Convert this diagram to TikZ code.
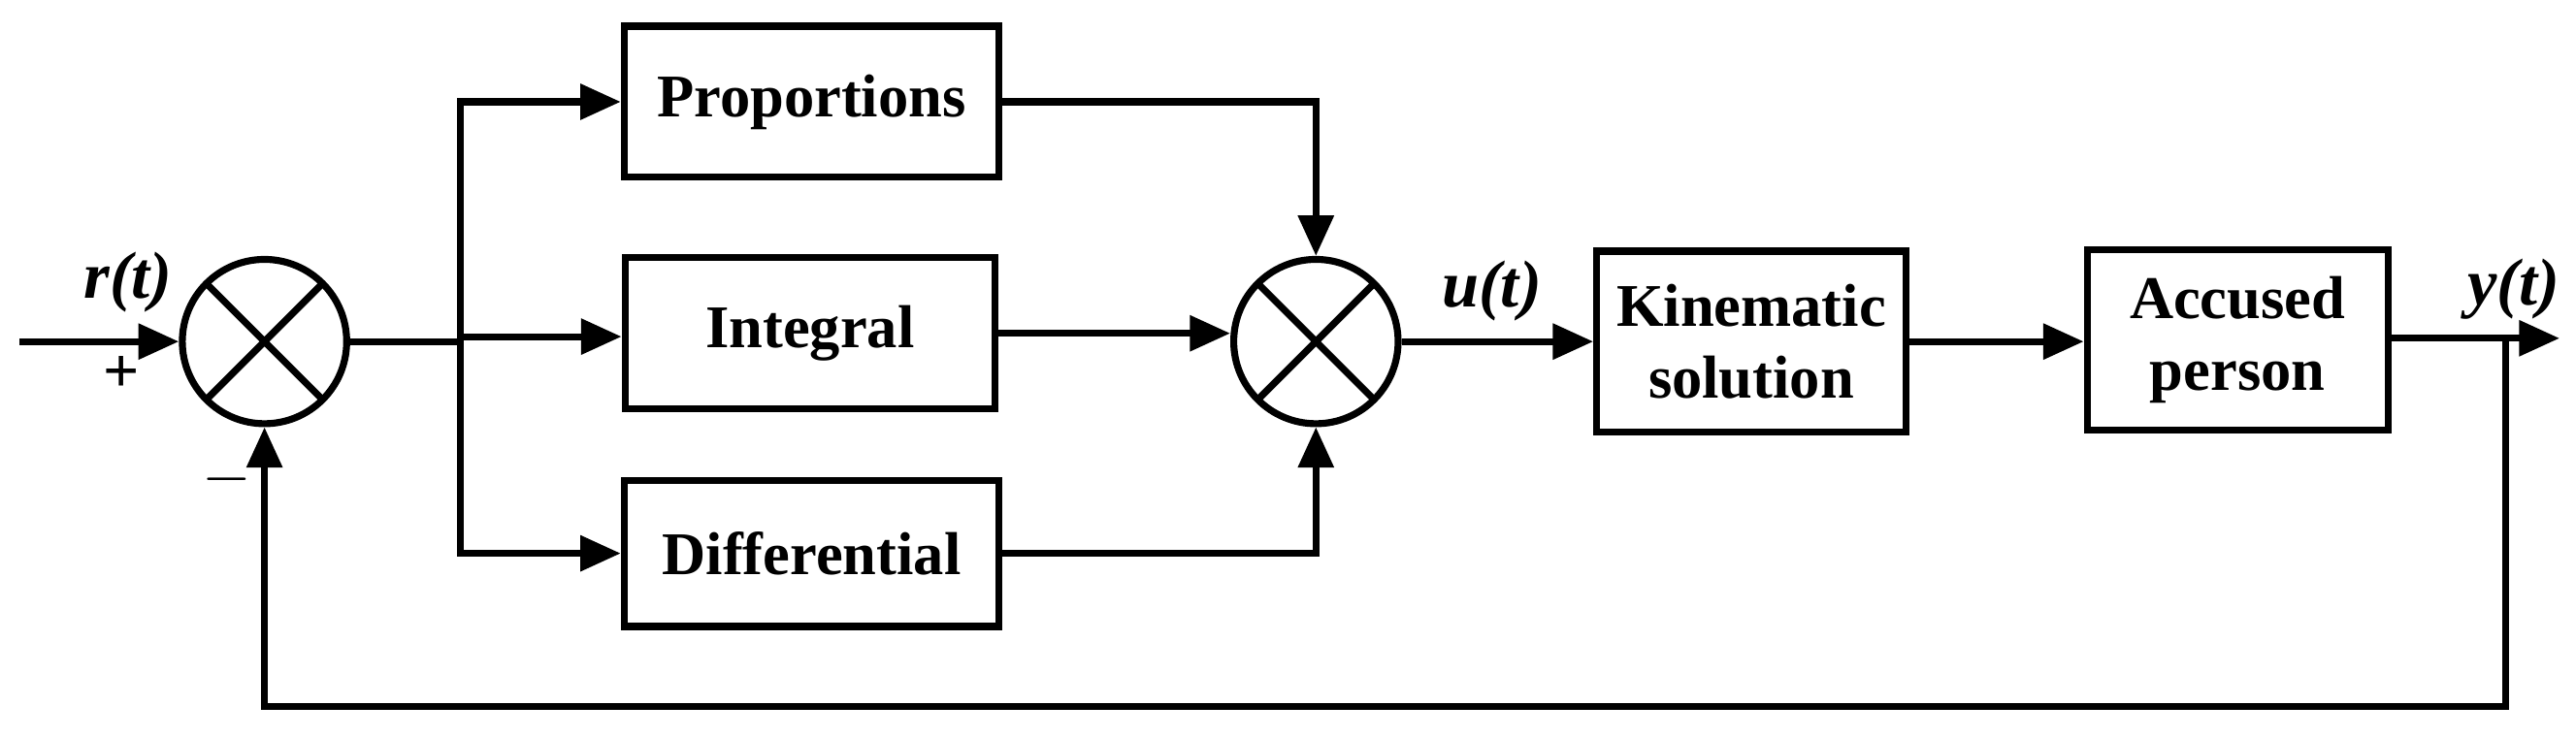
\documentclass[tikz,border=0pt]{standalone}
\usepackage{fontspec}
\setmainfont{Liberation Serif}
\usetikzlibrary{arrows.meta}
\begin{document}
\begin{tikzpicture}[x=0.01cm,y=-0.01cm,
  blk/.style={draw,line width=1.2pt,minimum height=0.92cm,font=\bfseries\fontsize{10.5}{12.5}\selectfont,align=center,inner sep=0pt},
  sum/.style={draw,circle,line width=1.2pt,minimum size=1cm,inner sep=0pt,
    path picture={\draw[line width=1.2pt] (path picture bounding box.south west)--(path picture bounding box.north east)
      (path picture bounding box.north west)--(path picture bounding box.south east);}},
  ln/.style={line width=1.2pt},
  arr/.style={ln,-{Triangle[length=7pt,width=6pt]}},
  lab/.style={font=\bfseries\itshape\fontsize{11.5}{13}\selectfont}]
\useasboundingbox (0,0) rectangle (1568,449);
\node[sum] (s1) at (161,208) {};
\node[sum] (s2) at (801,208) {};
\node[blk,minimum width=2.28cm] (p) at (494,62) {Proportions};
\node[blk,minimum width=2.25cm] (i) at (493,203) {Integral};
\node[blk,minimum width=2.28cm,minimum height=0.89cm] (d) at (494,337) {Differential};
\node[blk,minimum width=1.88cm,minimum height=1.1cm] (k) at (1066,208) {Kinematic\\solution};
\node[blk,minimum width=1.83cm,minimum height=1.1cm] (a) at (1362,207) {Accused\\person};
\coordinate (in) at (12,208);
\coordinate (j) at (280,205);
\coordinate (out) at (1558,206);
\coordinate (fb) at (1525,206);
\draw[arr] (in) -- (s1.west);
\draw[ln] (s1.east) -- (s1.east -| j);
\draw[arr] (j) -- (j -| i.west);
\draw[arr] (j) |- (p.west);
\draw[arr] (j) |- (d.west);
\draw[arr] (p.east) -| (s2.north);
\draw[arr] (i.east) -- (i.east -| s2.west);
\draw[arr] (d.east) -| (s2.south);
\draw[arr] (s2.east) -- (s2.east -| k.west);
\draw[arr] (k.east) -- (k.east -| a.west);
\draw[arr] (a.east |- out) -- (out);
\draw[arr] (fb) -- (1525,430) -| (s1.south);
\node[lab] at (78,172) {r(t)};
\node[font=\bfseries\fontsize{11}{13}\selectfont] at (74,228) {+};
\node[font=\bfseries\fontsize{11}{13}\selectfont] at (138,292) {$-$};
\node[lab] at (908,177) {u(t)};
\node[lab] at (1530,176) {y(t)};
\end{tikzpicture}
\end{document}
